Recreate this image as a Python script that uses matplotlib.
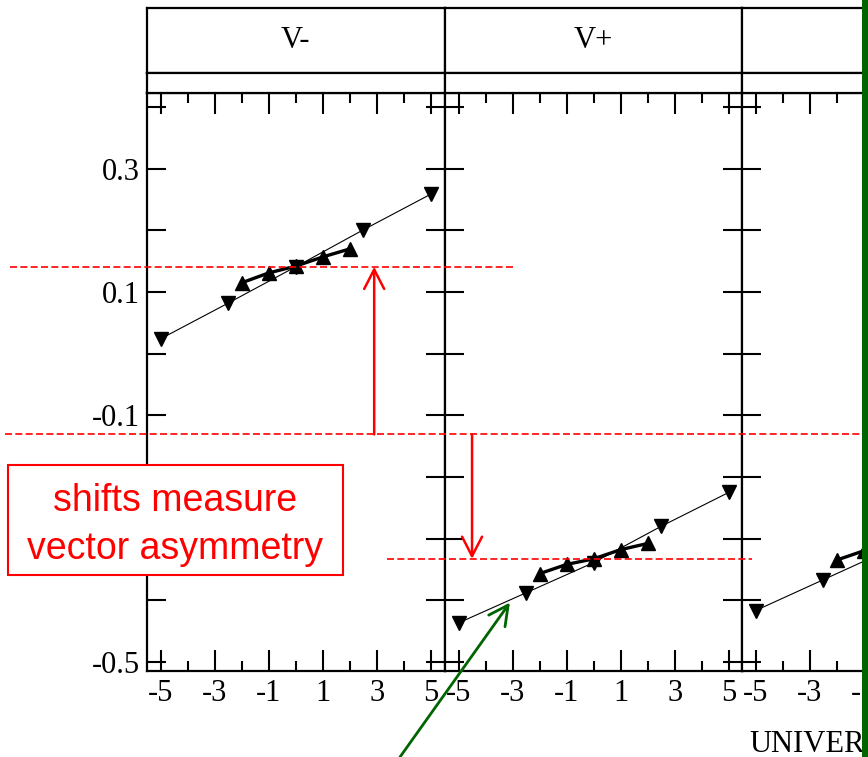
import numpy as np
import matplotlib
matplotlib.use("Agg")
from matplotlib import pyplot as plt
from matplotlib.patches import Rectangle
from matplotlib.lines import Line2D
from matplotlib.transforms import blended_transform_factory

# slope data per channel: fit line (down triangles) and points (up triangles)
x_fit = [-5, -2.5, 0, 2.5, 5]
x_pts = [-2, -1, 0, 1, 2]

vminus_fit = [0.024, 0.082, 0.141, 0.201, 0.259]
vminus_pts = [0.115, 0.131, 0.142, 0.157, 0.170]

vplus_fit = [-0.437, -0.388, -0.339, -0.280, -0.225]
vplus_pts = [-0.357, -0.342, -0.333, -0.318, -0.308]

x3_fit = [-5, -2.5, 0]
x3_pts = [-2, -1, 0]
third_fit = [-0.417, -0.367, -0.317]
third_pts = [-0.335, -0.320, -0.305]

panel_titles = ["V-", "V+", ""]
reference_level = -0.131

y_ticks = [-0.5, -0.4, -0.3, -0.2, -0.1, 0.0, 0.1, 0.2, 0.3, 0.4]
y_labels = ["-0.5", "", "-0.3", "", "-0.1", "", "0.1", "", "0.3", ""]
x_major = [-5, -3, -1, 1, 3, 5]
x_major_labels = ["-5", "-3", "-1", "1", "3", "5"]
x_minor = [-4, -2, 0, 2, 4]

W, H = 868, 757
SERIF = "Liberation Serif"
SANS = "Liberation Sans"
FS = 22


def fx(px):
    return px / W


def fy(py):
    return 1 - py / H


fig = plt.figure(figsize=(W / 100, H / 100), dpi=100)

lefts = [147, 445, 742]
pw = 297.5
top, bottom = 93, 671

datasets = [
    (x_fit, vminus_fit, x_pts, vminus_pts),
    (x_fit, vplus_fit, x_pts, vplus_pts),
    (x3_fit, third_fit, x3_pts, third_pts),
]

axes = []
for i, left in enumerate(lefts):
    ax = fig.add_axes([fx(left), fy(bottom), pw / W, (bottom - top) / H])
    xf, yf, xp, yp = datasets[i]
    ax.plot(xf, yf, "-", color="black", lw=0.8, marker="v", ms=10, mec="black", mfc="black")
    ax.plot(xp, yp, "-", color="black", lw=2.4, marker="^", ms=10, mec="black", mfc="black")
    ax.set_xlim(-5.5, 5.5)
    ax.set_ylim(-0.515, 0.423)

    ax.set_xticks(x_major)
    ax.set_xticklabels(x_major_labels, fontfamily=SERIF, fontsize=FS)
    ax.set_xticks(x_minor, minor=True)
    ax.set_yticks(y_ticks)
    if i == 0:
        ax.set_yticklabels(y_labels, fontfamily=SERIF, fontsize=FS)
    else:
        ax.set_yticklabels([])

    ax.tick_params(axis="x", which="major", direction="in", top=True, length=15, width=1.5, pad=6)
    ax.tick_params(axis="x", which="minor", direction="in", top=True, length=7, width=1.5)
    ax.tick_params(axis="y", which="major", direction="in", right=True, length=14, width=1.5, pad=5)
    for s in ax.spines.values():
        s.set_linewidth(1.6)
    axes.append(ax)

    # header strip with the channel name, plus the thin band below it
    hdr = fig.add_axes([fx(left), fy(73), pw / W, (73 - 8) / H])
    band = fig.add_axes([fx(left), fy(93), pw / W, (93 - 73) / H])
    for a in (hdr, band):
        a.set_xticks([])
        a.set_yticks([])
        for s in a.spines.values():
            s.set_linewidth(1.6)
    hdr.text(0.5, 0.5, panel_titles[i], ha="center", va="center",
             fontfamily=SERIF, fontsize=FS)

ax1, ax2, ax3 = axes

# horizontal guides: centre of V-, reference level, centre of V+
red = "#ff0000"
tr = blended_transform_factory(fig.transFigure, ax1.transData)
dash = dict(color=red, lw=1.2, dashes=(4.2, 2.0), transform=tr, clip_on=False, zorder=5)
fig.add_artist(Line2D([fx(10), fx(515)], [vminus_fit[2]] * 2, **dash))
fig.add_artist(Line2D([fx(5), fx(860)], [reference_level] * 2, **dash))
fig.add_artist(Line2D([fx(387), fx(752)], [vplus_pts[2]] * 2, **dash))

arrow = dict(arrowstyle="->,head_length=0.7,head_width=0.36", color=red, lw=1.8,
             shrinkA=0, shrinkB=0, mutation_scale=20)
ax1.annotate("", xy=(2.9, vminus_fit[2]), xytext=(2.9, reference_level),
             arrowprops=arrow, annotation_clip=False)
ax2.annotate("", xy=(-4.5, vplus_pts[2]), xytext=(-4.5, reference_level),
             arrowprops=arrow, annotation_clip=False)

# caption box
fig.add_artist(Rectangle((fx(8), fy(575)), fx(343) - fx(8), (575 - 465) / H,
                         transform=fig.transFigure, facecolor="white",
                         edgecolor=red, lw=1.5, zorder=6))
fig.text(fx(175), fy(525), "shifts measure\nvector asymmetry", ha="center", va="center",
         color=red, fontfamily=SANS, fontsize=27, linespacing=1.4, zorder=7)

# green pointer to the V+ fit line
green = "#006400"
ax2.annotate("", xy=(-3.1, -0.404), xytext=(fx(400), 0.0), textcoords="figure fraction",
             arrowprops=dict(arrowstyle="->,head_length=0.7,head_width=0.36", color=green,
                             lw=2, shrinkA=0, shrinkB=0, mutation_scale=20),
             annotation_clip=False)

fig.text(fx(749), fy(752), "UNIVER", ha="left", va="baseline",
         fontfamily=SERIF, fontsize=FS)

fig.add_artist(Rectangle((fx(862), 0), fx(868) - fx(862), 1, transform=fig.transFigure,
                         facecolor=green, edgecolor="none", zorder=10))

fig.savefig("out.png", dpi=100)
